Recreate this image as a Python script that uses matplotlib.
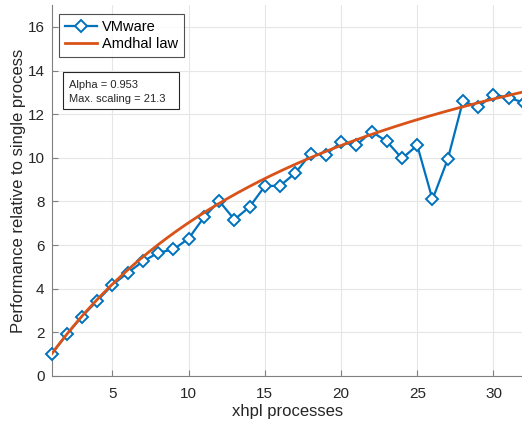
import numpy as np
import matplotlib.pyplot as plt
from matplotlib.patches import Rectangle

plt.rcParams['font.family'] = ['Liberation Sans', 'DejaVu Sans']

# measured speedup per process count
procs = list(range(1, 33))
speedup = [1.0, 1.9, 2.72, 3.45, 4.17, 4.73, 5.25, 5.65, 5.8, 6.3,
           7.27, 8.02, 7.17, 7.75, 8.7, 8.72, 9.3, 10.18, 10.15, 10.72,
           10.57, 11.2, 10.75, 9.97, 10.57, 8.09, 9.93, 12.6, 12.32, 12.9,
           12.75, 12.53]

alpha = 0.953
max_scaling = 1.0 / (1.0 - alpha)

BLUE = '#0072BD'
ORANGE = '#D95319'
AXC = '#262626'

fig = plt.figure(figsize=(5.22, 4.21), dpi=100)
ax = fig.add_axes([0.0987, 0.107, 0.905, 0.881])

n = np.linspace(1, 32, 300)
amdahl = 1.0 / ((1.0 - alpha) + alpha / n)

ax.plot(procs, speedup, color=BLUE, lw=1.6, marker='D', ms=6,
        mfc='white', mec=BLUE, mew=1.4, label='VMware', zorder=3,
        clip_on=False)
ax.plot(n, amdahl, color=ORANGE, lw=2.0, label='Amdhal law', zorder=4)

ax.set_xlim(1, 32)
ax.set_ylim(0, 17)
ax.set_xticks([5, 10, 15, 20, 25, 30])
ax.set_yticks(range(0, 17, 2))
ax.grid(True, color='#e6e6e6', lw=0.8)
ax.set_axisbelow(True)
for s in ('top', 'right'):
    ax.spines[s].set_visible(False)
for s in ('left', 'bottom'):
    ax.spines[s].set_color('#808080')
    ax.spines[s].set_linewidth(0.8)
ax.tick_params(direction='in', length=4, color='#808080', labelcolor=AXC,
               labelsize=11)
ax.tick_params(axis='x', pad=8)
ax.tick_params(axis='y', pad=5)

ax.set_xlabel('xhpl processes', fontsize=12, color=AXC, labelpad=2)
ax.set_ylabel('Performance relative to single process', fontsize=12,
              color=AXC, labelpad=1)

leg = ax.legend(loc='upper left', bbox_to_anchor=(0.016, 0.976), fontsize=10.5,
                frameon=True, fancybox=False, edgecolor='#262626',
                handlelength=2.2, borderpad=0.4, labelspacing=0.25,
                handletextpad=0.35, borderaxespad=0)
leg.get_frame().set_linewidth(0.8)
leg.set_zorder(6)

# annotation box with the fitted parameters
ax.add_patch(Rectangle((0.0244, 0.7197), 0.2444, 0.1005, transform=ax.transAxes,
                       facecolor='white', edgecolor='#262626', lw=0.8, zorder=6))
ax.text(0.036, 0.797, f'Alpha = {alpha}\nMax. scaling = {max_scaling:.1f}',
        transform=ax.transAxes, fontsize=8, color=AXC, va='top', ha='left',
        linespacing=1.45, zorder=7)

fig.savefig('out.png', dpi=100)
